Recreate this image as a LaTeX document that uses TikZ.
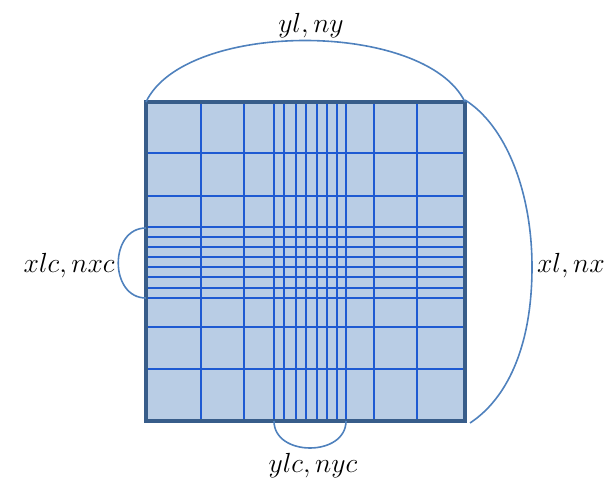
\documentclass[tikz,border=0pt]{standalone}
\usepackage{amsmath, amssymb}
\usepackage{tikz}
\usepackage{xcolor}
\usetikzlibrary{positioning, calc}
\definecolor{cellfill}{HTML}{B9CDE5}
\definecolor{edgeblue}{HTML}{385D8A}
\definecolor{gridblue}{HTML}{1E5AD2}
\definecolor{arcblue}{HTML}{4F81BD}

\begin{document}
\begin{tikzpicture}[x=0.75pt, y=-0.75pt,
    gridln/.style={gridblue, line width=1.5pt},
    outline/.style={draw=edgeblue, line width=3pt},
    arcln/.style={arcblue, line width=1.2pt},
    lbl/.style={inner sep=0pt, font=\fontsize{22}{26}\selectfont}]
    \useasboundingbox (0,0) rectangle (610,481);
    % corners of the domain and of the refined band
    \coordinate (nw) at (146,102);
    \coordinate (ne) at (465,102);
    \coordinate (se) at (465,421);
    \coordinate (sw) at (146,421);
    \coordinate (bandtop) at (146,228);
    \coordinate (bandbot) at (146,298);
    \coordinate (bandl) at (274,421);
    \coordinate (bandr) at (346,421);
    % cells
    \fill[cellfill] (nw) rectangle (se);
    \foreach \gx in {200.7,244.3,274.3,284,295.7,305.7,316.7,326.7,336.7,345.7,374.3,416.7}
        \draw[gridln] (\gx,102) -- (\gx,421);
    \foreach \gy in {153.3,196,226.7,236.7,247,257.3,267.3,277.3,288.3,298.3,327,369.3}
        \draw[gridln] (146,\gy) -- (465,\gy);
    \draw[outline] (nw) rectangle (se);
    % extents
    \draw[arcln] (nw) .. controls (185,20) and (425,20) .. (ne);
    \draw[arcln] (465,100) .. controls (505,125) and (532,190) .. (532,267)
        .. controls (532,350) and (505,400) .. (470,423);
    \draw[arcln] (bandtop) .. controls (109,228) and (109,298) .. (bandbot);
    \draw[arcln] (bandl) .. controls (274,457) and (346,457) .. (bandr);
    % labels
    \node[lbl] (ylab) at (311,26) {$yl,ny$};
    \node[lbl, anchor=east] (xlab) at (605,266) {$xl,nx$};
    \node[lbl, anchor=east] (xclab) at (115,266) {$xlc,nxc$};
    \node[lbl] (yclab) at (313,466) {$ylc,nyc$};
\end{tikzpicture}
\end{document}
